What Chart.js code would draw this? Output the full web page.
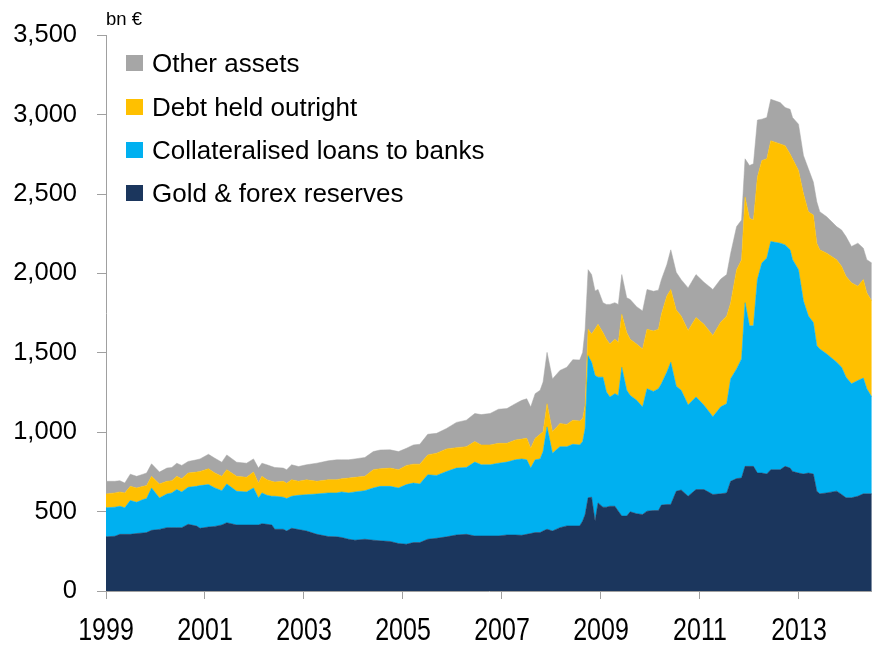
<!DOCTYPE html>
<html>
<head>
<meta charset="utf-8">
<script src="https://cdn.jsdelivr.net/npm/chart.js@4.4.1/dist/chart.umd.min.js"></script>
<style>
  body { margin: 0; background: #fff; }
  #wrap { position: relative; width: 872px; height: 648px; font-family: "Liberation Sans", Arial, sans-serif; color: #000; }
  #unit { position: absolute; left: 106px; top: 10px; font-size: 18.5px; line-height: 18px; }
  .leg { position: absolute; left: 126px; height: 20px; line-height: 20px; font-size: 26px; display: flex; align-items: center; white-space: nowrap; }
  .leg i { display: inline-block; width: 17px; height: 16px; margin-right: 9px; }
</style>
</head>
<body>
<div id="wrap">
  <canvas id="chart" width="872" height="648"></canvas>
  <div id="unit">bn €</div>
  <div id="legend"></div>
</div>
<script>
// dates as decimal years
const dates = [
  1999.00, 1999.18, 1999.28, 1999.38, 1999.49, 1999.62, 1999.75, 1999.82, 1999.92, 2000.08,
  2000.23, 2000.33, 2000.43, 2000.53, 2000.66, 2000.83, 2000.90, 2001.07, 2001.20, 2001.34,
  2001.44, 2001.64, 2001.84, 2001.98, 2002.08, 2002.15, 2002.25, 2002.35, 2002.41, 2002.58,
  2002.65, 2002.75, 2002.89, 2003.05, 2003.26, 2003.49, 2003.66, 2003.76, 2003.90, 2004.03,
  2004.23, 2004.40, 2004.54, 2004.74, 2004.91, 2005.07, 2005.21, 2005.34, 2005.50, 2005.68,
  2005.88, 2006.08, 2006.28, 2006.45, 2006.58, 2006.76, 2006.93, 2007.10, 2007.27, 2007.40,
  2007.50, 2007.58, 2007.67, 2007.77, 2007.83, 2007.91, 2008.02, 2008.17, 2008.31, 2008.43,
  2008.57, 2008.63, 2008.68, 2008.74, 2008.81, 2008.88, 2008.94, 2009.04, 2009.11, 2009.18,
  2009.28, 2009.35, 2009.42, 2009.52, 2009.59, 2009.72, 2009.84, 2009.93, 2010.06, 2010.16,
  2010.22, 2010.33, 2010.41, 2010.52, 2010.62, 2010.76, 2010.92, 2011.08, 2011.26, 2011.42,
  2011.54, 2011.62, 2011.74, 2011.84, 2011.91, 2012.00, 2012.08, 2012.16, 2012.25, 2012.35,
  2012.43, 2012.62, 2012.72, 2012.82, 2012.87, 2012.99, 2013.09, 2013.19, 2013.29, 2013.36,
  2013.42, 2013.56, 2013.76, 2013.86, 2013.95, 2014.06, 2014.19, 2014.30, 2014.37, 2014.47
];

// bn EUR
const goldForex = [
  341, 345, 357, 357, 357, 362, 366, 368, 382, 388,
  399, 399, 399, 399, 420, 409, 395, 403, 407, 416,
  430, 416, 416, 416, 416, 424, 420, 416, 389, 389,
  378, 395, 387, 378, 357, 343, 341, 337, 326, 320,
  326, 320, 316, 312, 299, 295, 305, 305, 326, 332,
  341, 353, 357, 347, 347, 347, 347, 353, 353, 351,
  357, 362, 368, 368, 378, 389, 378, 399, 410, 410,
  410, 441, 482, 587, 591, 441, 555, 528, 528, 534,
  534, 503, 472, 472, 499, 487, 482, 503, 507, 507,
  541, 545, 545, 628, 636, 597, 639, 639, 608, 612,
  618, 691, 708, 712, 785, 785, 785, 743, 743, 737,
  764, 764, 785, 774, 753, 743, 737, 743, 737, 629,
  612, 618, 629, 608, 587, 587, 597, 612, 612, 612
];
const collatLoans = [
  183, 183, 177, 167, 213, 197, 210, 214, 267, 198,
  212, 219, 240, 225, 233, 250, 269, 267, 242, 216,
  244, 212, 208, 233, 170, 194, 183, 181, 208, 202,
  204, 202, 216, 229, 254, 275, 277, 287, 292, 304,
  306, 329, 343, 347, 350, 375, 375, 369, 406, 396,
  412, 421, 421, 465, 448, 448, 458, 459, 473, 481,
  469, 412, 458, 464, 500, 645, 490, 510, 499, 514,
  510, 500, 542, 895, 850, 916, 792, 819, 725, 688,
  709, 729, 937, 792, 733, 714, 677, 771, 750, 767,
  764, 833, 896, 662, 628, 575, 583, 531, 489, 548,
  562, 646, 691, 750, 1031, 885, 885, 1219, 1323, 1360,
  1437, 1427, 1395, 1375, 1334, 1281, 1089, 989, 954, 916,
  912, 875, 812, 802, 760, 718, 729, 729, 662, 610
];
const debtOutright = [
  87, 90, 90, 94, 89, 90, 83, 82, 73, 88,
  80, 77, 83, 83, 90, 90, 89, 100, 94, 90,
  90, 94, 92, 100, 94, 104, 98, 94, 89, 100,
  96, 104, 88, 93, 80, 83, 83, 83, 93, 92,
  90, 115, 111, 115, 115, 121, 119, 125, 125, 140,
  142, 129, 131, 129, 125, 125, 125, 118, 125, 125,
  136, 125, 136, 155, 125, 146, 135, 146, 140, 152,
  150, 145, 146, 167, 177, 293, 333, 281, 333, 333,
  343, 334, 334, 364, 354, 354, 365, 375, 381, 375,
  438, 480, 458, 480, 468, 468, 500, 510, 512, 535,
  552, 479, 625, 625, 666, 677, 667, 645, 645, 625,
  635, 625, 625, 604, 635, 625, 677, 657, 677, 646,
  625, 635, 646, 635, 635, 636, 594, 621, 604, 604
];
const otherAssets = [
  80, 73, 71, 62, 77, 73, 77, 79, 79, 75,
  83, 83, 83, 84, 73, 77, 79, 91, 93, 89,
  93, 89, 89, 83, 94, 83, 94, 93, 92, 83,
  86, 94, 93, 95, 114, 119, 125, 119, 115, 116,
  119, 114, 118, 115, 114, 108, 121, 125, 130, 125,
  129, 159, 167, 177, 191, 198, 215, 219, 229, 244,
  249, 260, 281, 277, 313, 323, 333, 334, 360, 381,
  385, 417, 479, 375, 375, 240, 219, 188, 219, 250,
  230, 239, 250, 219, 250, 236, 240, 250, 250, 246,
  218, 197, 250, 237, 229, 269, 271, 265, 290, 270,
  261, 312, 271, 250, 240, 333, 354, 359, 261, 260,
  261, 260, 240, 281, 260, 291, 240, 270, 208, 260,
  240, 229, 208, 229, 250, 229, 271, 197, 209, 240
];

const yearTicks = [1999, 2001, 2003, 2005, 2007, 2009, 2011, 2013];
const seriesNames = ['Gold & forex reserves', 'Collateralised loans to banks', 'Debt held outright', 'Other assets'];
const seriesColors = ['#1b365d', '#00b0f0', '#ffc000', '#a6a6a6'];

// legend sits inside the plot, top series first
const legendTops = [53, 96.5, 139.5, 183];
const legendEl = document.getElementById('legend');
seriesNames.slice().reverse().forEach((name, i) => {
  const row = document.createElement('div');
  row.className = 'leg';
  row.style.top = legendTops[i] + 'px';
  row.innerHTML = '<i style="background:' + seriesColors[seriesNames.length - 1 - i] + '"></i>' + name;
  legendEl.appendChild(row);
});

// year labels in the original are drawn tall and narrow, so stretch them vertically
const tallYearLabels = {
  id: 'tallYearLabels',
  afterDraw(chart) {
    const {ctx} = chart;
    const x = chart.scales.x;
    ctx.save();
    ctx.font = '25px "Liberation Sans", Arial';
    ctx.fillStyle = '#000';
    ctx.textAlign = 'center';
    ctx.textBaseline = 'alphabetic';
    yearTicks.forEach(yr => {
      ctx.save();
      ctx.translate(x.getPixelForValue(yr), 640);
      ctx.scale(1, 1.28);
      ctx.fillText(String(yr), 0, 0);
      ctx.restore();
    });
    ctx.restore();
  }
};

const toPoints = vals => vals.map((v, i) => ({x: dates[i], y: v}));
const axisGrey = '#a0a0a0';

new Chart(document.getElementById('chart').getContext('2d'), {
  type: 'line',
  data: {
    datasets: [goldForex, collatLoans, debtOutright, otherAssets].map((vals, i) => ({
      label: seriesNames[i],
      data: toPoints(vals),
      backgroundColor: seriesColors[i],
      borderColor: seriesColors[i],
      borderWidth: 0.5,
      pointRadius: 0,
      tension: 0,
      fill: i === 0 ? 'origin' : '-1'
    }))
  },
  options: {
    responsive: false,
    animation: false,
    devicePixelRatio: 1,
    layout: {padding: {top: 30, right: 0, left: 0, bottom: 0}},
    plugins: {legend: {display: false}, tooltip: {enabled: false}},
    scales: {
      x: {
        type: 'linear',
        min: 1999,
        max: 2014.475,
        z: 1,
        afterBuildTicks: s => { s.ticks = yearTicks.map(v => ({value: v})); },
        afterFit: s => { s.height = 57; },
        grid: {drawOnChartArea: false, color: axisGrey, tickLength: 8},
        border: {color: axisGrey, width: 1},
        ticks: {display: false}
      },
      y: {
        stacked: true,
        min: 0,
        max: 3500,
        z: 1,
        afterFit: s => { s.width = 106; },
        grid: {drawOnChartArea: false, color: axisGrey, tickLength: 9},
        border: {color: axisGrey, width: 1},
        ticks: {
          stepSize: 500,
          color: '#000',
          padding: 20,
          font: {family: '"Liberation Sans", Arial', size: 25.5},
          callback: v => v.toLocaleString('en-US')
        }
      }
    }
  },
  plugins: [tallYearLabels]
});
</script>
</body>
</html>
